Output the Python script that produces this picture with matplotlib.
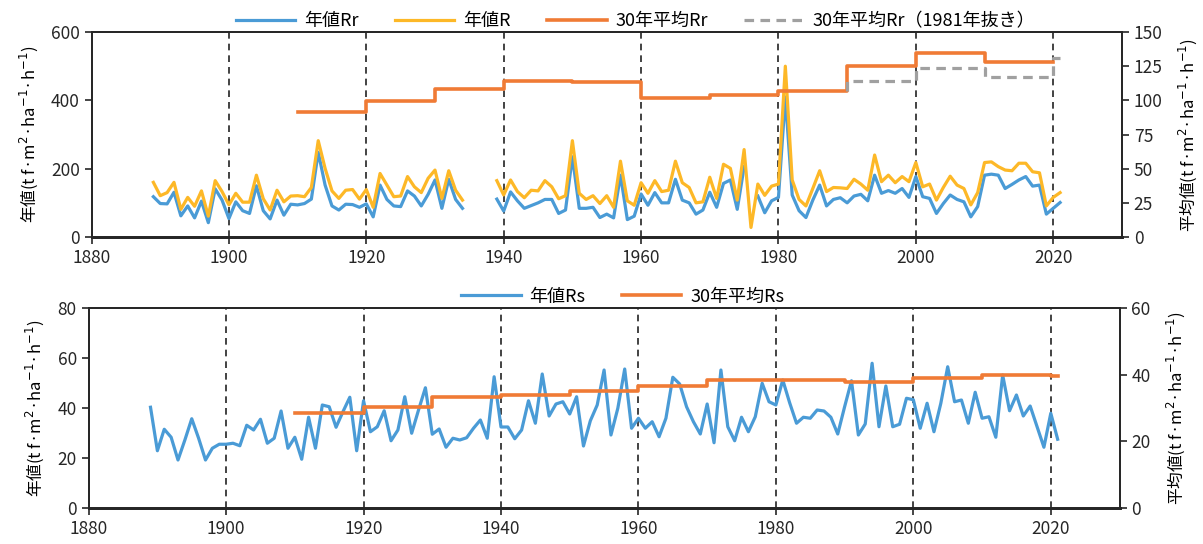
import numpy as np
import matplotlib
matplotlib.use("Agg")
import matplotlib.pyplot as plt
from matplotlib import font_manager

plt.rcParams['font.family'] = ['Noto Sans CJK JP', 'DejaVu Sans']
plt.rcParams['mathtext.fontset'] = 'dejavusans'

names = {f.name for f in font_manager.fontManager.ttflist}
tick_font = 'Liberation Sans Narrow' if 'Liberation Sans Narrow' in names else 'Noto Sans CJK JP'

years = np.arange(1889, 2022)
nan = np.nan

# 年値R (黄)
r_year = [160, 121, 130, 160, 81, 116, 90, 135, 61, 165, 133, 94, 128, 102, 102, 181, 112, 79, 137, 103,
          120, 121, 118, 145, 282, 201, 135, 113, 137, 139, 111, 139, 87, 186, 152, 118, 120, 177, 147, 130,
          172, 196, 113, 194, 137, 108,
          nan, nan, nan, nan,
          165, 123, 167, 133, 115, 137, 135, 165, 147, 112, 121, 282, 128, 110, 121, 98, 121, 87, 222, 106,
          93, 159, 128, 165, 133, 137, 222, 159, 145, 100, 103, 175, 113, 213, 201, 108, 256, 28, 155, 122,
          149, 155, 500,
          167, 110, 91, 142, 194, 133, 145, 144, 142, 169, 155, 137, 240, 162, 181, 159, 177, 162, 218, 147,
          155, 108, 145, 178, 152, 142, 94, 130, 218, 220, 206, 196, 194, 216, 216, 191, 188, 91, 116, 130]

# 年値Rr (青)
rr_year = [118, 98, 97, 131, 62, 91, 56, 105, 42, 141, 108, 54, 103, 77, 69, 150, 77, 53, 108, 64,
           96, 94, 98, 111, 248, 152, 91, 79, 96, 95, 87, 97, 59, 152, 110, 91, 89, 135, 120, 91,
           125, 167, 84, 169, 110, 84,
           nan, nan, nan, nan,
           111, 76, 132, 106, 84, 92, 100, 110, 110, 69, 79, 235, 84, 84, 87, 57, 67, 56, 181, 51,
           61, 126, 93, 130, 100, 100, 169, 108, 100, 67, 79, 131, 87, 157, 167, 81, 206, nan, 120, 71,
           106, 116, 410,
           123, 77, 57, 108, 152, 91, 110, 115, 100, 120, 125, 106, 181, 128, 136, 128, 142, 116, 177, 118,
           113, 69, 98, 123, 110, 103, 59, 89, 181, 184, 181, 142, 154, 167, 177, 149, 152, 67, 84, 101]

# 30年平均Rr
avg_years = [1910, 1920, 1930, 1940, 1950, 1960, 1970, 1980, 1990, 2000, 2010, 2020]
rr_avg = [91.5, 99.5, 108, 114.5, 113.2, 102, 103.7, 107, 125, 134.8, 128.3, 128.3]

# 30年平均Rr（1981年抜き）: 1990年に1980年代の値から分岐
ex_years = [1990, 1990, 2000, 2010, 2020, 2021]
rr_avg_ex = [107, 114, 123.4, 117.3, 131, 131]

# 年値Rs
rs_year = [40.3, 22.9, 31.5, 28.3, 19.2, 27.2, 35.7, 27.9, 19.2, 23.9, 25.5, 25.5, 25.9, 24.9, 33.1, 31.2,
           35.5, 25.9, 27.9, 38.8, 23.9, 28.3, 19.5, 36.3, 23.9, 41.2, 40.5, 32.3, 38.5, 44.3, 22.9, 42.9,
           30.5, 32.5, 38.9, 26.9, 31.2, 44.5, 29.9, 39.2, 48.1, 29.5, 31.6, 24.3, 27.9, 27.2, 28.1, 31.9,
           35.2, 27.9,
           52.5, 32.4, 32.4, 27.7, 31.2, 42.9, 33.9, 53.6, 36.8, 41.6, 42.5, 37.6, 44.5, 24.8, 34.9, 41.2,
           55.2, 29.2, 39.9, 55.6, 31.9, 35.9, 31.9, 34.5, 28.5, 35.9, 52.3, 49.6, 40.5, 34.5, 29.6, 41.6,
           26.1, 55.2, 32.5, 26.9, 36.3, 30.5, 36.5, 49.9, 42.5, 41.2, 51.2, 42.1, 33.9, 36.3, 35.9, 39.2,
           38.8, 36.3,
           29.6, 40.5, 50.9, 29.2, 33.6, 57.9, 32.5, 48.8, 32.5, 33.5, 43.9, 43.3, 31.9, 41.9, 30.5, 41.9,
           56.5, 42.5, 43.2, 33.9, 46.3, 35.9, 36.5, 28.3, 53.2, 38.9, 45.2, 36.8, 40.8, 32.5, 24.3, 37.9,
           27.5]

# 30年平均Rs
rs_avg_years = [1910, 1920, 1930, 1940, 1950, 1960, 1970, 1980, 1990, 2000, 2010, 2020, 2021]
rs_avg = [28.4, 30.2, 33.2, 33.9, 35.1, 36.6, 38.4, 38.4, 37.9, 38.9, 39.9, 39.6, 39.6]

decades = [1900, 1920, 1940, 1960, 1980, 2000, 2020]
xticks = np.arange(1880, 2021, 20)

BLUE = '#4A9BD6'
YELLOW = '#FDB827'
ORANGE = '#F07B35'
GRAY = '#A0A0A0'
unit = '(t f·m$^{2}$·ha$^{-1}$·h$^{-1}$)'

fig = plt.figure(figsize=(12.03, 5.44), dpi=100)
ax1 = fig.add_axes([0.0761, 0.5643, 0.8565, 0.3768])
ax2 = fig.add_axes([0.0737, 0.0662, 0.8569, 0.3676])


def style(ax):
    for s in ax.spines.values():
        s.set_color('#262626')
        s.set_linewidth(1.3)
    ax.spines['bottom'].set_linewidth(2.0)
    ax.tick_params(direction='out', length=5, width=1.2, labelsize=12.5, colors='#262626')
    for lab in ax.get_xticklabels() + ax.get_yticklabels():
        lab.set_fontfamily(tick_font)


# 上段
for d in decades:
    ax1.axvline(d, color='#222222', lw=1.2, ls=(0, (4, 3)), zorder=1)
l_rr, = ax1.plot(years, rr_year, color=BLUE, lw=2.3, zorder=3, label='年値Rr')
l_r, = ax1.plot(years, r_year, color=YELLOW, lw=2.3, zorder=4, label='年値R')
ax1.set_xlim(1880, 2030)
ax1.set_ylim(0, 600)
ax1.set_xticks(xticks)
ax1.set_yticks([0, 200, 400, 600])
ax1.set_ylabel('年値' + unit, fontsize=12, labelpad=8)
ax1r = ax1.twinx()
l_avg, = ax1r.plot(avg_years, rr_avg, color=ORANGE, lw=2.6, drawstyle='steps-post', zorder=2,
                   label='30年平均Rr')
l_ex, = ax1r.plot(ex_years, rr_avg_ex, color=GRAY, lw=2.3, ls=(0, (3, 2)), drawstyle='steps-post',
                  zorder=3, label='30年平均Rr（1981年抜き）')
ax1r.set_ylim(0, 150)
ax1r.set_yticks(np.arange(0, 151, 25))
ax1r.set_ylabel('平均値' + unit, fontsize=12, labelpad=10)
style(ax1)
style(ax1r)
ax1.legend(handles=[l_rr, l_r, l_avg, l_ex], loc='lower center', bbox_to_anchor=(0.528, 0.975),
           ncol=4, frameon=False, fontsize=13, handlelength=3.3, columnspacing=2.0,
           handletextpad=0.5, borderaxespad=0)

# 下段
for d in decades:
    ax2.axvline(d, color='#222222', lw=1.2, ls=(0, (4, 3)), zorder=1)
l_rs, = ax2.plot(years, rs_year, color=BLUE, lw=2.3, zorder=3, label='年値Rs')
ax2.set_xlim(1880, 2030)
ax2.set_ylim(0, 80)
ax2.set_xticks(xticks)
ax2.set_yticks(np.arange(0, 81, 20))
ax2.set_ylabel('年値' + unit, fontsize=12, labelpad=8)
ax2r = ax2.twinx()
l_rsavg, = ax2r.plot(rs_avg_years, rs_avg, color=ORANGE, lw=2.6, drawstyle='steps-post',
                     label='30年平均Rs')
ax2r.set_ylim(0, 60)
ax2r.set_yticks(np.arange(0, 61, 20))
ax2r.set_ylabel('平均値' + unit, fontsize=12, labelpad=10)
style(ax2)
style(ax2r)
ax2.legend(handles=[l_rs, l_rsavg], loc='lower center', bbox_to_anchor=(0.518, 0.975),
           ncol=2, frameon=False, fontsize=13, handlelength=3.3, columnspacing=2.0,
           handletextpad=0.5, borderaxespad=0)

fig.savefig('out.png', dpi=100)
